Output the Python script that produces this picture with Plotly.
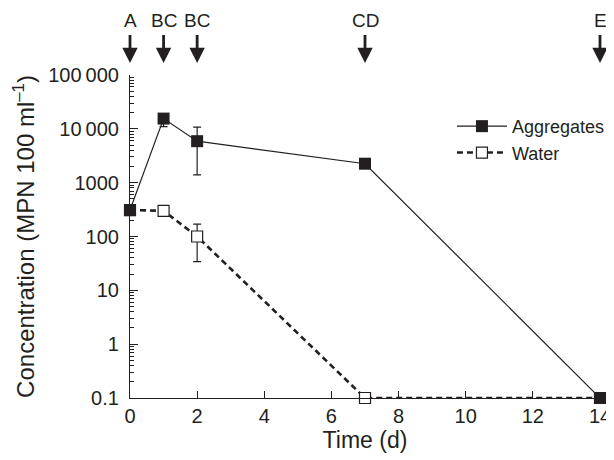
import plotly.graph_objects as go

days = [0, 1, 2, 7, 14]
aggregates = [310, 15500, 5900, 2250, 0.1]
agg_err_plus = [0, 600, 4900, 0, 0]
agg_err_minus = [0, 4500, 4500, 0, 0]
water = [310, 300, 100, 0.1, 0.1]
water_err_plus = [0, 0, 70, 0, 0]
water_err_minus = [0, 0, 66, 0, 0]

arrow_days = [0, 1, 2, 7, 14]
arrow_labels = ["A", "BC", "BC", "CD", "E"]

ytick_vals = [0.1, 1, 10, 100, 1000, 10000, 100000]
ytick_text = ["0.1", "1", "10", "100", "1000", "10\u2009000", "100\u2009000"]
xtick_vals = [0, 2, 4, 6, 8, 10, 12, 14]

INK = "#231f20"
FONT = "Liberation Sans, Arial, Helvetica, sans-serif"

fig = go.Figure()

fig.add_trace(go.Scatter(
    x=days, y=water, name="Water", mode="lines+markers",
    line=dict(color=INK, width=2.6, dash="6px,4px"),
    marker=dict(symbol="square", size=11, color="white",
                line=dict(color=INK, width=1.2)),
    error_y=dict(type="data", symmetric=False, array=water_err_plus,
                 arrayminus=water_err_minus, color=INK, thickness=1.2, width=4),
    cliponaxis=False, legendrank=2,
))
fig.add_trace(go.Scatter(
    x=days, y=aggregates, name="Aggregates", mode="lines+markers",
    line=dict(color=INK, width=1.2),
    marker=dict(symbol="square", size=12, color=INK,
                line=dict(color=INK, width=0)),
    error_y=dict(type="data", symmetric=False, array=agg_err_plus,
                 arrayminus=agg_err_minus, color=INK, thickness=1.2, width=4),
    cliponaxis=False, legendrank=1,
))

for d, lab in zip(arrow_days, arrow_labels):
    fig.add_annotation(x=d, y=1.037, xref="x", yref="paper", text=lab,
                       showarrow=True, ax=0, ay=-43, arrowhead=2,
                       arrowsize=1.1, arrowwidth=2.8, arrowcolor=INK,
                       borderpad=4,
                       font=dict(size=19, color=INK, family=FONT))

fig.update_layout(
    width=606, height=452,
    margin=dict(l=122, r=14, t=67, b=62, autoexpand=False),
    paper_bgcolor="white", plot_bgcolor="white",
    font=dict(family=FONT, color=INK, size=19),
    showlegend=True,
    legend=dict(x=0.685, y=0.898, xanchor="left", yanchor="top",
                bgcolor="rgba(0,0,0,0)", font=dict(size=18, color=INK),
                tracegroupgap=0, itemwidth=50),
    xaxis=dict(range=[0, 14], tickvals=xtick_vals, ticks="inside",
               ticklen=7, tickwidth=1, tickcolor=INK, showline=True,
               linecolor=INK, linewidth=1.2, showgrid=False, zeroline=False,
               tickfont=dict(size=20), ticklabelstandoff=0, automargin=False,
               title=dict(text="Time (d)", font=dict(size=23), standoff=4)),
    yaxis=dict(type="log", range=[-1, 5], tickvals=ytick_vals,
               ticktext=ytick_text, ticks="inside", ticklen=8, tickwidth=1,
               tickcolor=INK, showline=True, linecolor=INK, linewidth=1.2,
               showgrid=False, zeroline=False, tickfont=dict(size=20),
               ticklabelstandoff=6, automargin=False,
               minor=dict(ticks="inside", ticklen=4, tickcolor=INK,
                          tickwidth=1, dtick="D1", showgrid=False),
               title=dict(text="Concentration (MPN 100 ml<sup>\u20131</sup>)",
                          font=dict(size=24), standoff=6)),
)

fig.write_html("out.html")
